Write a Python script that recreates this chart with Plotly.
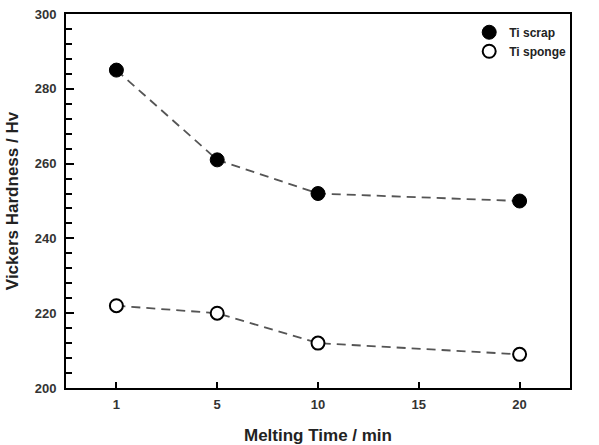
import plotly.graph_objects as go

melting_time = ["1", "5", "10", "15", "20"]
scrap_x = ["1", "5", "10", "20"]
scrap_hv = [285, 261, 252, 250]
sponge_x = ["1", "5", "10", "20"]
sponge_hv = [222, 220, 212, 209]

FONT = "Liberation Sans, Arial, sans-serif"
fig = go.Figure()

fig.add_trace(go.Scatter(
    x=scrap_x, y=scrap_hv, mode="lines+markers", showlegend=False,
    line=dict(color="#555555", width=1.8, dash="9px,6px"),
    marker=dict(size=14, color="black", line=dict(color="black", width=1))))
fig.add_trace(go.Scatter(
    x=sponge_x, y=sponge_hv, mode="lines+markers", showlegend=False,
    line=dict(color="#555555", width=1.8, dash="9px,6px"),
    marker=dict(size=13, color="white", line=dict(color="black", width=2))))

fig.add_trace(go.Scatter(x=[None], y=[None], mode="markers", name="Ti scrap",
                         marker=dict(size=14, color="black", line=dict(color="black", width=1))))
fig.add_trace(go.Scatter(x=[None], y=[None], mode="markers", name="Ti sponge",
                         marker=dict(size=13, color="white", line=dict(color="black", width=2))))

fig.update_layout(
    width=599, height=445,
    margin=dict(l=66, r=29, t=14, b=57, autoexpand=False),
    paper_bgcolor="white", plot_bgcolor="white",
    font=dict(family=FONT, size=13, color="#333333", weight="bold"),
    legend=dict(x=0.80, y=0.99, xanchor="left", yanchor="top",
                font=dict(size=12, color="#222222", family=FONT, weight="bold"),
                bgcolor="rgba(0,0,0,0)", tracegroupgap=0, itemwidth=30),
    xaxis=dict(
        type="category", categoryorder="array", categoryarray=melting_time,
        range=[-0.5, 4.5], showgrid=False, zeroline=False, automargin=False,
        showline=True, linecolor="black", linewidth=2, mirror=True,
        ticks="inside", ticklen=6, tickwidth=1.5, tickcolor="black",
        ticklabelstandoff=3,
        title=dict(text="Melting Time / min", font=dict(size=17, color="#222222", family=FONT, weight="bold"), standoff=19),
    ),
    yaxis=dict(
        range=[200, 300], dtick=20, showgrid=False, zeroline=False, automargin=False,
        showline=True, linecolor="black", linewidth=2, mirror=True,
        ticks="inside", ticklen=8, tickwidth=1.5, tickcolor="black",
        minor=dict(dtick=4, ticks="inside", ticklen=6, tickwidth=1.5, tickcolor="black"),
        ticklabelstandoff=5,
        title=dict(text="Vickers Hardness / Hv", font=dict(size=17, color="#222222", family=FONT, weight="bold"), standoff=12),
    ),
)

fig.write_html("out.html")
